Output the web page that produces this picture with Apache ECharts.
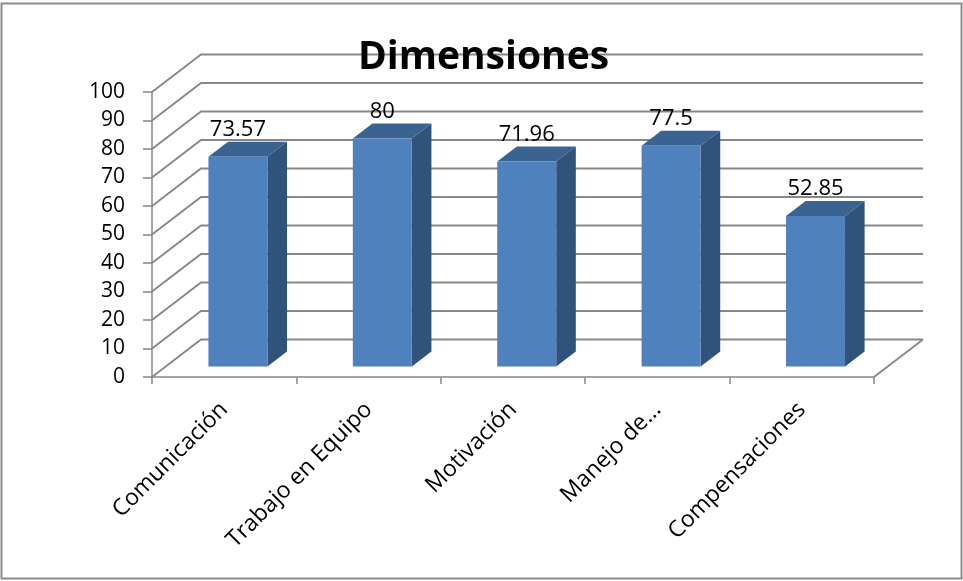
<!DOCTYPE html>
<html>
<head>
<meta charset="utf-8">
<script src="https://cdn.jsdelivr.net/npm/echarts@6/dist/echarts.min.js"></script>
<style>
html,body{margin:0;padding:0;background:#fff;}
#chart{width:963px;height:581px;}
</style>
</head>
<body>
<div id="chart"></div>
<script>
// ---- data ----
const titleText = 'Dimensiones';
const categories = ['Comunicación', 'Trabajo en Equipo', 'Motivación', 'Manejo de...', 'Compensaciones'];
const values = [73.57, 80, 71.96, 77.5, 52.85];
const valueLabels = ['73.57', '80', '71.96', '77.5', '52.85'];
const yTicks = [0, 10, 20, 30, 40, 50, 60, 70, 80, 90, 100];

// ---- style constants (3D look) ----
const DX = 49, DY = 37.5;          // depth of the plot box
const BAR_F = 0.28;                // bar front position in depth
const BAR_D = 0.4;                 // bar depth fraction
const BAR_HALF = 29.5;             // half width of bar front face
const GRID_COLOR = '#878787';
const FONT = '"Open Sans", "Liberation Sans", sans-serif';

const chart = echarts.init(document.getElementById('chart'), null, {renderer: 'canvas'});

const option = {
  animation: false,
  backgroundColor: '#fff',
  graphic: [
    {type: 'rect', shape: {x: 1.5, y: 3.5, width: 960, height: 575},
     style: {fill: 'none', stroke: '#8c8c8c', lineWidth: 2}, z: 0, silent: true},
    {type: 'text', x: 483.5, y: 58, z: 10,
     style: {text: titleText, font: 'bold 39px ' + FONT, fill: '#000', align: 'center', verticalAlign: 'middle'}}
  ],
  grid: {left: 152, right: 89, top: 92, bottom: 204, containLabel: false},
  xAxis: {
    type: 'category',
    data: categories,
    axisLine: {show: true, lineStyle: {color: GRID_COLOR, width: 1.5}},
    axisTick: {show: true, length: 7, lineStyle: {color: GRID_COLOR, width: 1.5}},
    axisLabel: {rotate: 45, margin: 29, color: '#000', fontSize: 23, fontFamily: FONT, interval: 0},
    splitLine: {show: false}
  },
  yAxis: {
    type: 'value', min: 0, max: 100, interval: 10,
    axisLine: {show: true, lineStyle: {color: GRID_COLOR, width: 1.5}},
    axisTick: {show: true, length: 9, lineStyle: {color: GRID_COLOR, width: 1.5}},
    axisLabel: {margin: 27, color: '#000', fontSize: 21, fontFamily: FONT},
    splitLine: {show: false}
  },
  series: [
    {
      type: 'custom', name: 'walls', silent: true, z: 1,
      data: yTicks.map(v => [0, v]),
      renderItem: function (params, api) {
        const cs = params.coordSys;
        const x0 = cs.x, x1 = cs.x + cs.width;
        const y = api.coord([0, api.value(1)])[1];
        const children = [{
          type: 'polyline',
          shape: {points: [[x0, y], [x0 + DX, y - DY], [x1 + DX, y - DY]]},
          style: {stroke: GRID_COLOR, lineWidth: 1.8, fill: null}
        }];
        if (api.value(1) === 0) {
          children.push({
            type: 'line',
            shape: {x1: x1, y1: y, x2: x1 + DX, y2: y - DY},
            style: {stroke: GRID_COLOR, lineWidth: 1.8}
          });
        }
        return {type: 'group', children: children};
      }
    },
    {
      type: 'custom', name: 'Dimensiones', z: 3,
      data: values.map((v, i) => [i, v]),
      renderItem: function (params, api) {
        const i = api.value(0);
        const top = api.coord([i, api.value(1)]);
        const base = api.coord([i, 0]);
        const sx = BAR_F * DX, sy = BAR_F * DY;
        const dx = BAR_D * DX, dy = BAR_D * DY;
        const xl = top[0] + sx - BAR_HALF, xr = top[0] + sx + BAR_HALF;
        const yt = top[1] - sy, yb = base[1] - sy;
        return {
          type: 'group',
          children: [
            {type: 'polygon', shape: {points: [[xr, yt], [xr + dx, yt - dy], [xr + dx, yb - dy], [xr, yb]]},
             style: {fill: '#31527b'}},
            {type: 'polygon', shape: {points: [[xl, yt], [xr, yt], [xr + dx, yt - dy], [xl + dx, yt - dy]]},
             style: {fill: '#3b6392'}},
            {type: 'rect', shape: {x: xl, y: yt, width: xr - xl, height: yb - yt},
             style: {fill: '#4f81bd'}},
            {type: 'text', z2: 10,
             style: {text: valueLabels[params.dataIndex], x: (xl + xr) / 2, y: yt - dy - 1,
                     align: 'center', verticalAlign: 'bottom', font: '22px ' + FONT, fill: '#000'}}
          ]
        };
      }
    }
  ]
};
chart.setOption(option);
</script>
</body>
</html>
